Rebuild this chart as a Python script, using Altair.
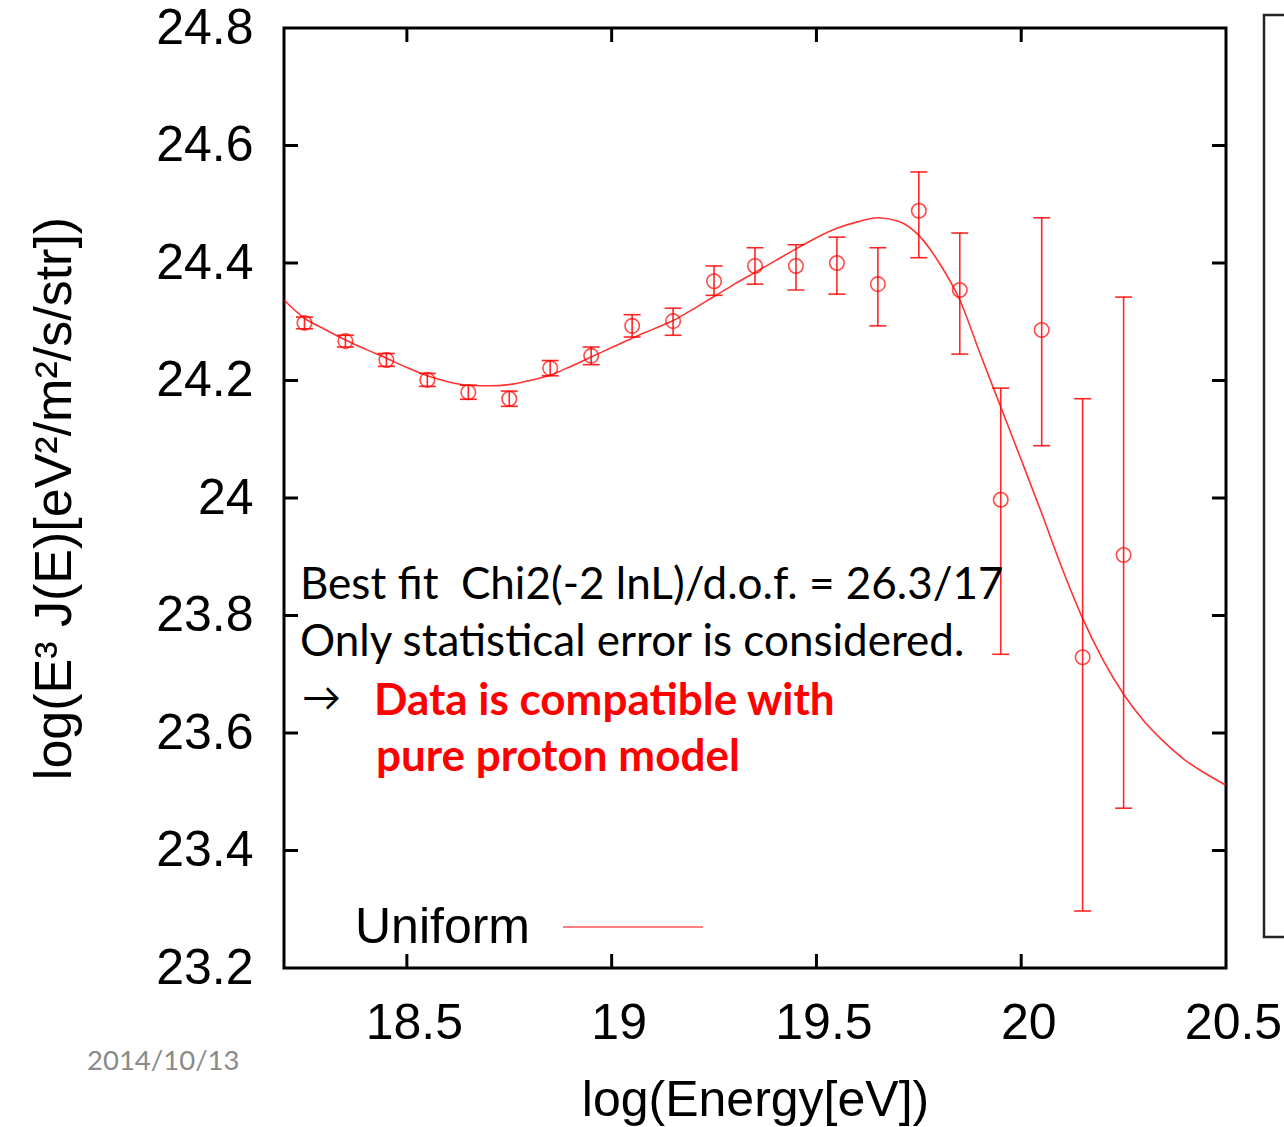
import altair as alt
import pandas as pd

# ---- data ----
energy = [18.25, 18.35, 18.45, 18.55, 18.65, 18.75, 18.85, 18.95, 19.05, 19.15,
          19.25, 19.35, 19.45, 19.55, 19.65, 19.75, 19.85, 19.95, 20.05, 20.15, 20.25]
flux = [24.298, 24.267, 24.235, 24.201, 24.180, 24.169, 24.221, 24.242, 24.293, 24.301,
        24.369, 24.395, 24.395, 24.400, 24.364, 24.489, 24.354, 23.997, 24.286, 23.729, 23.903]
flux_hi = [24.308, 24.277, 24.246, 24.212, 24.192, 24.182, 24.234, 24.257, 24.312, 24.323,
           24.395, 24.426, 24.431, 24.444, 24.426, 24.555, 24.451, 24.187, 24.477, 24.169, 24.342]
flux_lo = [24.288, 24.257, 24.224, 24.190, 24.168, 24.156, 24.208, 24.227, 24.274, 24.277,
           24.345, 24.364, 24.354, 24.347, 24.293, 24.409, 24.245, 23.734, 24.089, 23.297, 23.472]

fit_x = [18.2, 18.25, 18.3, 18.35, 18.4, 18.45, 18.5, 18.55, 18.6, 18.65, 18.7, 18.75,
         18.8, 18.85, 18.9, 18.95, 19.0, 19.05, 19.1, 19.15, 19.2, 19.25, 19.3, 19.35,
         19.4, 19.45, 19.5, 19.55, 19.6, 19.65, 19.7, 19.75, 19.8, 19.85, 19.9, 19.95,
         20.0, 20.05, 20.1, 20.15, 20.2, 20.25, 20.3, 20.35, 20.4, 20.45, 20.5]
fit_y = [24.337, 24.306, 24.287, 24.269, 24.253, 24.238, 24.222, 24.208, 24.198, 24.192,
         24.191, 24.193, 24.200, 24.209, 24.224, 24.240, 24.256, 24.272, 24.287, 24.302,
         24.322, 24.343, 24.364, 24.384, 24.404, 24.424, 24.443, 24.459, 24.470, 24.477,
         24.471, 24.447, 24.400, 24.337, 24.245, 24.155, 24.065, 23.974, 23.880, 23.795,
         23.724, 23.666, 23.620, 23.584, 23.554, 23.531, 23.511]

x_labels = [18.5, 19, 19.5, 20, 20.5]
y_labels = [23.2, 23.4, 23.6, 23.8, 24.0, 24.2, 24.4, 24.6, 24.8]
x_inner_ticks = [18.5, 19, 19.5, 20]
y_inner_ticks = [23.4, 23.6, 23.8, 24.0, 24.2, 24.4, 24.6]

pts = pd.DataFrame({"x": energy, "y": flux, "hi": flux_hi, "lo": flux_lo})
fit = pd.DataFrame({"x": fit_x, "y": fit_y})
xt = pd.DataFrame({"x": x_inner_ticks})
yt = pd.DataFrame({"y": y_inner_ticks})

W, H = 942, 940
RED = "#ff0000"
AX_FONT = "Liberation Sans"
TXT_FONT = "Lato"

xscale = alt.Scale(domain=[18.2, 20.5], nice=False, zero=False)
yscale = alt.Scale(domain=[23.2, 24.8], nice=False, zero=False)
xaxis = alt.Axis(values=x_labels, format="~g", labelFontSize=50, labelFont=AX_FONT,
                 labelPadding=30, labelOffset=7, labelFlush=False, labelOverlap=False,
                 labelColor="black", grid=False,
                 titleFontSize=50, titleFont=AX_FONT, titleFontWeight="normal",
                 titleColor="black", titleBaseline="alphabetic", titleY=147,
                 titleX=W / 2, titleAlign="center")
yaxis = alt.Axis(values=y_labels, format="~g", labelFontSize=50, labelFont=AX_FONT,
                 labelPadding=31, labelFlush=False, labelOverlap=False,
                 labelColor="black", grid=False,
                 titleFontSize=52, titleFont=AX_FONT, titleFontWeight="normal",
                 titleColor="black", titleBaseline="alphabetic", titleAngle=270,
                 titleX=-214, titleY=H / 2, titleAlign="center")

XT = "log(Energy[eV])"
YT = "log(E³ J(E)[eV²/m²/s/str])"


def X(f="x"):
    return alt.X(f"{f}:Q", scale=xscale, axis=xaxis, title=XT)


def Y(f="y"):
    return alt.Y(f"{f}:Q", scale=yscale, axis=yaxis, title=YT)


curve = alt.Chart(fit).mark_line(color=RED, strokeWidth=1.6, opacity=0.8,
                                 interpolate="monotone").encode(x=X(), y=Y())

bars = alt.Chart(pts).mark_rule(color=RED, strokeWidth=1.6, opacity=0.85).encode(
    x=X(), y=Y("lo"), y2="hi:Q")
cap_hi = alt.Chart(pts).mark_tick(color=RED, orient="horizontal", size=17,
                                  thickness=1.6, opacity=0.85).encode(x=X(), y=Y("hi"))
cap_lo = alt.Chart(pts).mark_tick(color=RED, orient="horizontal", size=17,
                                  thickness=1.6, opacity=0.85).encode(x=X(), y=Y("lo"))
circles = alt.Chart(pts).mark_point(shape="circle", filled=False, color=RED, size=210,
                                    strokeWidth=1.6, opacity=0.7).encode(x=X(), y=Y())

tick_b = alt.Chart(xt).mark_rule(color="black", strokeWidth=3).encode(
    x=X(), y=alt.value(H), y2=alt.value(H - 14))
tick_t = alt.Chart(xt).mark_rule(color="black", strokeWidth=3).encode(
    x=X(), y=alt.value(0), y2=alt.value(14))
tick_l = alt.Chart(yt).mark_rule(color="black", strokeWidth=3).encode(
    y=Y(), x=alt.value(0), x2=alt.value(14))
tick_r = alt.Chart(yt).mark_rule(color="black", strokeWidth=3).encode(
    y=Y(), x=alt.value(W), x2=alt.value(W - 14))

base = alt.Chart(pd.DataFrame({"a": [0]}))

legend_txt = base.mark_text(text="Uniform", font=AX_FONT, fontSize=50, align="right",
                            baseline="alphabetic", color="black").encode(
    x=alt.value(246), y=alt.value(915))
legend_line = base.mark_rule(color="#ff8080", strokeWidth=2).encode(
    x=alt.value(279), x2=alt.value(419), y=alt.value(899))

NB = "\u00a0"
t1 = base.mark_text(text=f"Best fit{NB}{NB}Chi2(-2 lnL)/d.o.f. = 26.3/17", font=TXT_FONT,
                    fontSize=44, align="left", baseline="alphabetic", color="black").encode(
    x=alt.value(16), y=alt.value(571))
t2 = base.mark_text(text="Only statistical error is considered.", font=TXT_FONT,
                    fontSize=44, align="left", baseline="alphabetic", color="black").encode(
    x=alt.value(16), y=alt.value(628))
t3 = base.mark_text(text="→", font=TXT_FONT, fontSize=39, align="left",
                    baseline="middle", color="black").encode(
    x=alt.value(18), y=alt.value(671))
t4 = base.mark_text(text="Data is compatible with", font=TXT_FONT, fontSize=44,
                    fontWeight="bold", align="left", baseline="alphabetic",
                    color=RED).encode(x=alt.value(90), y=alt.value(687))
t5 = base.mark_text(text="pure proton model", font=TXT_FONT, fontSize=44,
                    fontWeight="bold", align="left", baseline="alphabetic",
                    color=RED).encode(x=alt.value(92), y=alt.value(743))
date = base.mark_text(text="2014/10/13", font=TXT_FONT, fontSize=27.5, align="left",
                      baseline="alphabetic", color="#8a8a8a").encode(
    x=alt.value(-197), y=alt.value(1042))
side_box = base.mark_rect(filled=False, stroke="#222222", strokeWidth=2.5).encode(
    x=alt.value(980), x2=alt.value(1120), y=alt.value(-13), y2=alt.value(909))

chart = alt.layer(
    curve, bars, cap_hi, cap_lo, circles, tick_b, tick_t, tick_l, tick_r,
    legend_line, legend_txt, t1, t2, t3, t4, t5, date, side_box
).properties(
    width=W, height=H,
    padding={"left": 284, "top": 28, "right": 58, "bottom": 159},
    autosize=alt.AutoSizeParams(type="none"),
    background="white",
).configure_view(
    stroke="black", strokeWidth=3
).configure_axis(
    domain=False, ticks=False
)

chart.save("out.html", embed_options={"renderer": "svg", "actions": False})
